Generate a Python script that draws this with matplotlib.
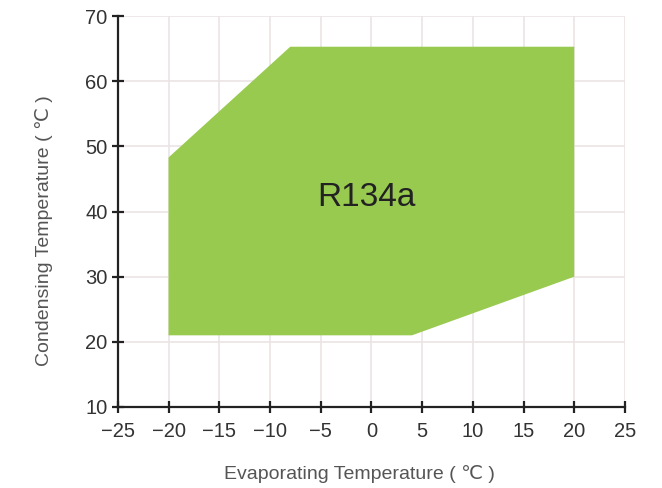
import matplotlib
matplotlib.use("Agg")
from matplotlib import pyplot as plt

# envelope of R134a operating range
evap = [-20, -20, -8, 20, 20, 4]
cond = [21, 48.3, 65.3, 65.3, 30, 21]
x_ticks = [-25, -20, -15, -10, -5, 0, 5, 10, 15, 20, 25]
y_ticks = [10, 20, 30, 40, 50, 60, 70]

plt.rcParams['font.family'] = ['Liberation Sans', 'DejaVu Sans']

fig = plt.figure(figsize=(6.62, 4.88), dpi=100)
ax = fig.add_axes([0.178, 0.166, 0.766, 0.801])

ax.fill(evap, cond, color="#99ca50", zorder=2, linewidth=0)
ax.text(-0.45, 42.1, "R134a", fontsize=24, color="#222222",
        ha="center", va="center", zorder=3)

ax.set_xlim(-25, 25)
ax.set_ylim(10, 70)
ax.set_xticks(x_ticks)
ax.set_yticks(y_ticks)
ax.set_xticklabels([str(t).replace("-", "\u2212") for t in x_ticks])
ax.grid(True, color="#ebe4e4", linewidth=1.2, zorder=0)

for s in ("top", "right"):
    ax.spines[s].set_visible(False)
for s in ("left", "bottom"):
    ax.spines[s].set_linewidth(1.6)
    ax.spines[s].set_color("#222222")

ax.tick_params(direction="inout", length=9, width=1.6, color="#222222",
               labelsize=14.5, labelcolor="#333333")
ax.tick_params(axis="x", pad=6)
ax.tick_params(axis="y", pad=3)

ax.set_xlabel("Evaporating Temperature ( \u2103 )", fontsize=14,
              color="#555555")
ax.set_ylabel("Condensing Temperature ( \u2103 )", fontsize=14,
              color="#555555")
ax.xaxis.set_label_coords(0.477, -0.148)
ax.yaxis.set_label_coords(-0.127, 0.45)

fig.savefig("out.png", dpi=100)
